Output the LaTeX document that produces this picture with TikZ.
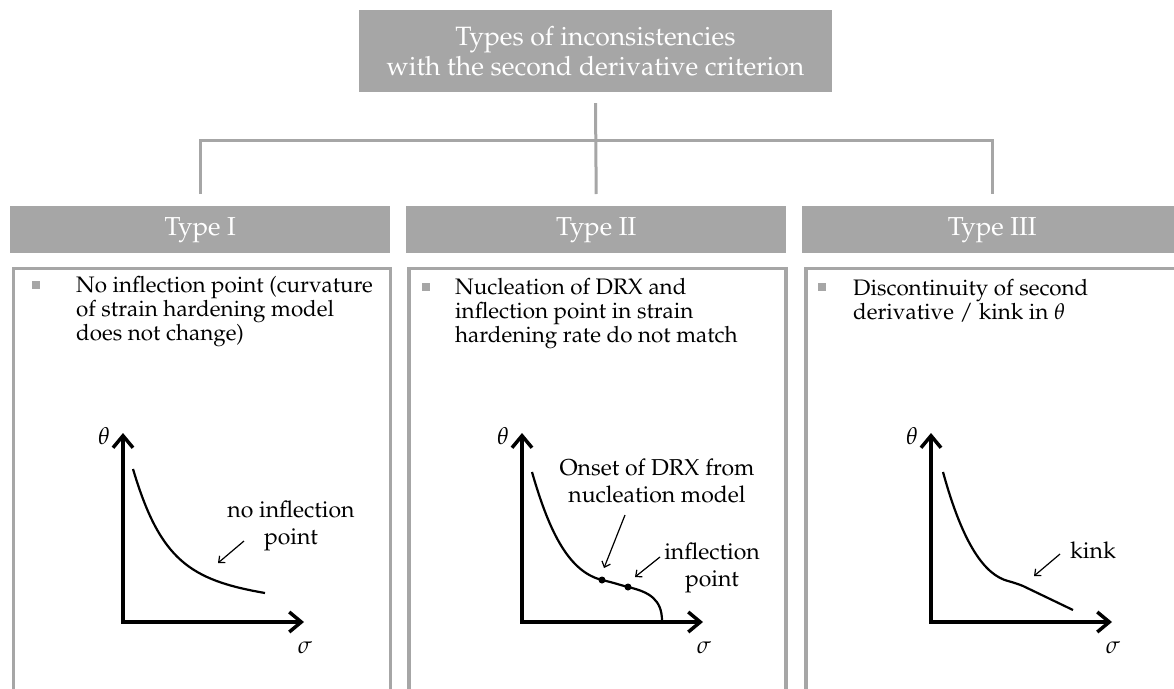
\documentclass[tikz,border=0pt]{standalone}
\usepackage[T1]{fontenc}
\usepackage{mathpazo}
\usepackage{amsmath}
\usetikzlibrary{arrows.meta,positioning}
\definecolor{boxgray}{RGB}{166,166,166}

\begin{document}
\begin{tikzpicture}[x=1pt,y=-1pt,
  titlebox/.style={fill=boxgray, text=white, inner sep=0pt, minimum width=473pt,
    minimum height=82pt, align=center, font=\fontsize{26.5}{30}\selectfont},
  headbox/.style={fill=boxgray, text=white, inner sep=0pt, minimum width=380pt,
    minimum height=47pt, anchor=north west, font=\fontsize{26}{28}\selectfont},
  panel/.style={draw=boxgray, line width=3.5pt, inner sep=0pt, minimum width=377pt,
    minimum height=440pt, anchor=north west},
  bullet/.style={fill=boxgray, inner sep=0pt, minimum size=8pt},
  item/.style={anchor=north west, inner sep=0pt, align=left,
    font=\fontsize{22.4}{24}\selectfont},
  link/.style={draw=boxgray, line width=3pt},
  axis/.style={line width=3.5pt, line join=miter,
    {Straight Barb[length=12pt,width=20pt]}-{Straight Barb[length=12pt,width=20pt]}},
  curve/.style={line width=2.2pt},
  pointer/.style={line width=1.2pt, -{Straight Barb[length=5pt,width=9pt]}},
  note/.style={align=center, inner sep=0pt, font=\fontsize{23}{27}\selectfont},
  axlabel/.style={inner sep=0pt, font=\fontsize{24}{24}\selectfont}
]
  \useasboundingbox (0,0) rectangle (1174,688);
  \clip (0,0) rectangle (1174,688);

  \node[titlebox] (title) at (595.5,51)
    {Types of inconsistencies\\with the second derivative criterion};

  \foreach \x/\n/\t in {10/1/I,406/2/II,802/3/III}
    \node[headbox] (head\n) at (\x,206) {Type \t};

  \draw[link] ([yshift=-11pt]title.south) -- ([yshift=12pt]head2.north);
  \draw[link] ([yshift=12pt]head1.north) -- ([yshift=66pt]head1.north)
    -| ([yshift=12pt]head3.north);

  \node[panel] (body1) at (11.5,266.5) {};
  \node[panel] (body2) at (407,266.5) {};
  \node[panel] (body3) at (804,266.5) {};

  \node[bullet] (dot1) at (36,285) {};
  \node[bullet] (dot2) at (426,287) {};
  \node[bullet] (dot3) at (822,287) {};

  \node[item] (text1) at (76,276)
    {No inflection point (curvature\\of strain hardening model\\does not change)};
  \node[item] (text2) at (455,278)
    {Nucleation of DRX and\\inflection point in strain\\hardening rate do not match};
  \node[item] (text3) at (853,279)
    {Discontinuity of second\\derivative / kink in $\theta$};

  % axes
  \foreach \ox/\n in {123/1,522/2,931/3} {
    \draw[axis] (\ox,433) -- (\ox,622) -- (\ox+181,622);
    \node[axlabel] (theta\n) at (\ox-19,436) {$\theta$};
    \node[axlabel] (sigma\n) at (\ox+182,648) {$\sigma$};
  }

  % Type I
  \draw[curve] (133,469) .. controls (160,560) and (190,580) .. (265,593);
  \node[note] (noinfl) at (291,526) {no inflection\\point};
  \coordinate (a1) at (244,541);
  \coordinate (b1) at (218,563);
  \draw[pointer] (a1) -- (b1);

  % Type II
  \draw[curve] (532,472) .. controls (550,535) and (570,572) .. (602,580)
    .. controls (615,583) and (620,585) .. (628,587)
    .. controls (650,592) and (662,600) .. (662,621);
  \fill (602,580) circle (3.5);
  \fill (628,587) circle (3.5);
  \node[note] (onset) at (657,481) {Onset of DRX from\\nucleation model};
  \node[note] (infl) at (712,568) {inflection\\point};
  \coordinate (a2) at (625,515);
  \coordinate (b2) at (604,568);
  \coordinate (a3) at (660,557);
  \coordinate (b3) at (635,577);
  \draw[pointer] (a2) -- (b2);
  \draw[pointer] (a3) -- (b3);

  % Type III
  \draw[curve] (943,472) .. controls (963,545) and (985,575) .. (1008,581)
    .. controls (1015,583) and (1018,584) .. (1023,586) -- (1073,610);
  \node[note] (kink) at (1093,550) {kink};
  \coordinate (a4) at (1060,554);
  \coordinate (b4) at (1034,576);
  \draw[pointer] (a4) -- (b4);
\end{tikzpicture}
\end{document}
